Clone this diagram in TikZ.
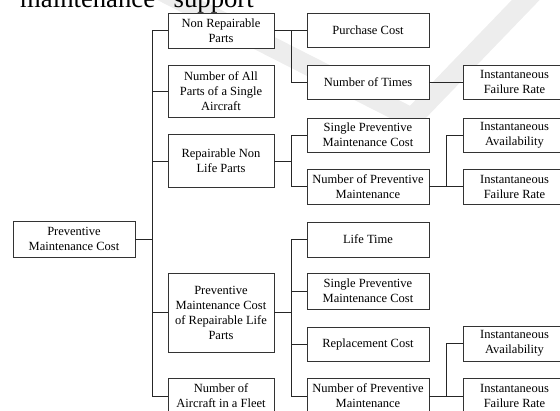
\documentclass[tikz,border=0pt]{standalone}
\usepackage{fontspec}
\setmainfont{Liberation Serif}
\newcommand\bxfont{\fontsize{12.5}{15}\selectfont}
\begin{document}
\begin{tikzpicture}[x=1pt,y=-1pt,
  box/.style={draw=black!80, line width=0.9pt, fill=white, align=center, inner sep=0pt, font=\bxfont},
  lone/.style={box, minimum width=106pt},
  ltwo/.style={box, minimum width=122pt},
  lthree/.style={box, minimum width=103pt},
  conn/.style={draw=black!85, line width=0.8pt}]
\useasboundingbox (0,0) rectangle (560,410);
\clip (0,0) rectangle (560,410);
% watermark
\draw[gray!14, line width=20pt, line join=miter] (140,-20) -- (412,118) -- (545,-20);
% cut-off heading text
\node[anchor=base west, inner sep=0pt, font=\fontsize{26.7}{30}\selectfont] (title) at (20,7) {maintenance “support};
% root
\node[box, minimum width=122pt, minimum height=36pt] (root) at (74,239) {Preventive\\Maintenance Cost};
% level 1
\node[lone, minimum height=35pt] (nrp) at (221,30.5) {Non Repairable\\Parts};
\node[lone, minimum height=52pt] (nap) at (221,91) {Number of All\\Parts of a Single\\Aircraft};
\node[lone, minimum height=53pt] (rnlp) at (221,161) {Repairable Non\\Life Parts};
\node[lone, minimum height=79pt] (rlp) at (221,312.5) {Preventive\\Maintenance Cost\\of Repairable Life\\Parts};
\node[lone, minimum height=36pt] (naf) at (221,396) {Number of\\Aircraft in a Fleet};
% level 2
\node[ltwo, minimum height=34pt] (pc) at (368,30) {Purchase Cost};
\node[ltwo, minimum height=34pt] (nt) at (368,82) {Number of Times};
\node[ltwo, minimum height=34pt] (spa) at (368,135) {Single Preventive\\Maintenance Cost};
\node[ltwo, minimum height=35pt] (npa) at (368,186.5) {Number of Preventive\\Maintenance};
\node[ltwo, minimum height=35pt] (lt) at (368,239.5) {Life Time};
\node[ltwo, minimum height=36pt] (spb) at (368,291) {Single Preventive\\Maintenance Cost};
\node[ltwo, minimum height=34pt] (rc) at (368,344) {Replacement Cost};
\node[ltwo, minimum height=35pt] (npb) at (368,396) {Number of Preventive\\Maintenance};
% level 3
\node[lthree, minimum height=34pt] (ifra) at (514.5,82) {Instantaneous\\Failure Rate};
\node[lthree, minimum height=34pt] (iaa) at (514.5,135) {Instantaneous\\Availability};
\node[lthree, minimum height=35pt] (ifrb) at (514.5,186.5) {Instantaneous\\Failure Rate};
\node[lthree, minimum height=35pt] (iab) at (514.5,343.5) {Instantaneous\\Availability};
\node[lthree, minimum height=35pt] (ifrc) at (514.5,396) {Instantaneous\\Failure Rate};
% connectors
\draw[conn] (root.east) -- ++(17,0) coordinate (t0);
\foreach \n in {nrp,nap,rnlp,rlp,naf} \draw[conn] (t0) |- (\n.west);
\draw[conn] (nrp.east) -- ++(17,0) coordinate (t1);
\foreach \n in {pc,nt} \draw[conn] (t1) |- (\n.west);
\draw[conn] (nt.east) -- (ifra.west);
\draw[conn] (rnlp.east) -- ++(17,0) coordinate (t2);
\foreach \n in {spa,npa} \draw[conn] (t2) |- (\n.west);
\draw[conn] (npa.east) -- ++(17,0) coordinate (t3);
\foreach \n in {iaa,ifrb} \draw[conn] (t3) |- (\n.west);
\draw[conn] (rlp.east) -- ++(17,0) coordinate (t4);
\foreach \n in {lt,spb,rc,npb} \draw[conn] (t4) |- (\n.west);
\draw[conn] (npb.east) -- ++(17,0) coordinate (t5);
\foreach \n in {iab,ifrc} \draw[conn] (t5) |- (\n.west);
\end{tikzpicture}
\end{document}
